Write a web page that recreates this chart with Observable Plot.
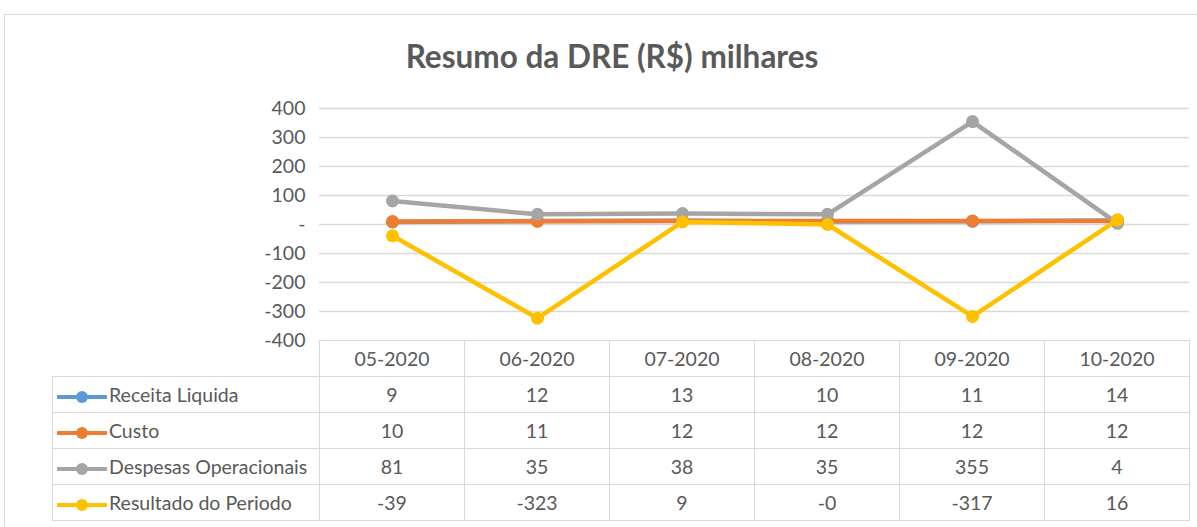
<!DOCTYPE html>
<html>
<head>
<meta charset="utf-8">
<script src="https://cdn.jsdelivr.net/npm/d3@7"></script>
<script src="https://cdn.jsdelivr.net/npm/@observablehq/plot@0.6"></script>
<style>
  html, body { margin: 0; padding: 0; background: #fff; }
  #wrap { position: relative; width: 1197px; height: 527px; overflow: hidden; font-family: Lato, "Open Sans", sans-serif; color: #595959; }
  #frame { position: absolute; left: 4px; top: 14px; width: 1300px; height: 600px; border-left: 1px solid #d9d9d9; border-top: 1px solid #d9d9d9; }
  #title { position: absolute; left: 0; width: 1224px; top: 37px; text-align: center; font-size: 31.5px; font-weight: 700; color: #595959; margin: 0; }
  #chart { position: absolute; left: 0; top: 0; }
  table { position: absolute; left: 52px; top: 340px; border-collapse: collapse; font-size: 19.5px; }
  td { border: 1.5px solid #d9d9d9; height: 35px; padding: 0; text-align: center; width: 144px; }
  td.lab { width: 266px; text-align: left; white-space: nowrap; }
  td.empty { border: none; border-bottom: 1.5px solid #d9d9d9; }
  .key { vertical-align: middle; margin-left: 4px; margin-right: 2px; }
</style>
</head>
<body>
<div id="wrap">
  <div id="frame"></div>
  <div id="title">Resumo da DRE (R$) milhares</div>
  <div id="chart"></div>
  <table id="tbl"></table>
</div>
<script>
const categories = ["05-2020", "06-2020", "07-2020", "08-2020", "09-2020", "10-2020"];
const seriesNames = ["Receita Liquida", "Custo", "Despesas Operacionais", "Resultado do Periodo"];
const receita = [9, 12, 13, 10, 11, 14];
const custo = [10, 11, 12, 12, 12, 12];
const despesas = [81, 35, 38, 35, 355, 4];
const resultado = [-39, -323, 9, -0, -317, 16];
const tableLabels = {
  "Receita Liquida": ["9", "12", "13", "10", "11", "14"],
  "Custo": ["10", "11", "12", "12", "12", "12"],
  "Despesas Operacionais": ["81", "35", "38", "35", "355", "4"],
  "Resultado do Periodo": ["-39", "-323", "9", "-0", "-317", "16"]
};
const colors = ["#5B9BD5", "#ED7D31", "#A5A5A5", "#FFC000"];
const yTicks = [-400, -300, -200, -100, 0, 100, 200, 300, 400];

const seriesValues = [receita, custo, despesas, resultado];
const data = seriesNames.flatMap((s, i) =>
  categories.map((m, j) => ({serie: s, mes: m, valor: seriesValues[i][j]})));

const seriesMarks = seriesNames.flatMap((s) => {
  const d = data.filter(r => r.serie === s);
  return [
    Plot.line(d, {x: "mes", y: "valor", stroke: "serie", strokeWidth: 4.5}),
    Plot.dot(d, {x: "mes", y: "valor", fill: "serie", r: 6.5})
  ];
});

const chart = Plot.plot({
  width: 1197,
  height: 345,
  marginLeft: 319,
  marginRight: 8,
  marginTop: 108,
  marginBottom: 5,
  style: {fontFamily: "Lato, 'Open Sans', sans-serif", fontSize: "19px", color: "#595959", background: "transparent", overflow: "visible"},
  x: {type: "point", domain: categories, padding: 0.5, axis: null},
  y: {domain: [-400, 400], axis: null},
  color: {domain: seriesNames, range: colors},
  marks: [
    Plot.ruleY(yTicks.filter(t => t > -400), {stroke: "#d9d9d9", strokeWidth: 1.5}),
    Plot.axisY({ticks: yTicks, tickSize: 0, tickPadding: 14, fontSize: 19.5,
      tickFormat: d => d === 0 ? "-" : String(d), label: null}),
    ...seriesMarks
  ]
});
document.getElementById("chart").appendChild(chart);

// data table
const tbl = document.getElementById("tbl");
let html = '<tr><td class="lab empty"></td>' + categories.map(c => `<td>${c}</td>`).join("") + '</tr>';
seriesNames.forEach((s, i) => {
  const key = `<svg class="key" width="50" height="16"><line x1="1" y1="8" x2="49" y2="8" stroke="${colors[i]}" stroke-width="4" stroke-linecap="round"/><circle cx="25" cy="8" r="6" fill="${colors[i]}"/></svg>`;
  html += `<tr><td class="lab">${key}${s}</td>` + tableLabels[s].map(v => `<td>${v}</td>`).join("") + '</tr>';
});
tbl.innerHTML = html;
</script>
</body>
</html>
